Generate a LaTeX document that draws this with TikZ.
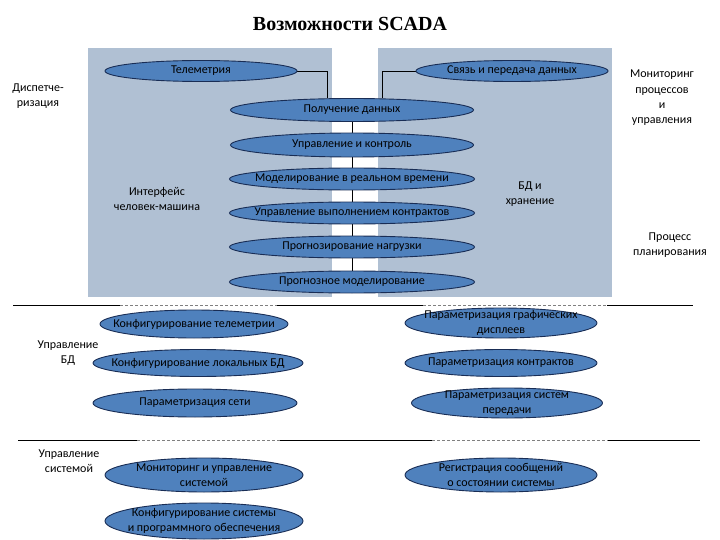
\documentclass[tikz,border=0pt]{standalone}
\usepackage{fontspec}
\setmainfont{Carlito}
\newfontfamily\titlefont{Liberation Serif}
\usetikzlibrary{shapes.geometric,backgrounds}
\definecolor{ovalfill}{RGB}{79,129,189}
\definecolor{ovaledge}{RGB}{25,45,85}
\definecolor{panelfill}{RGB}{176,192,211}

\begin{document}
\begin{tikzpicture}[x=1pt,y=-1pt,
  oval/.style={ellipse,draw=ovaledge,fill=ovalfill,line width=0.9pt,inner sep=0pt},
  otxt/.style={align=center,font=\fontsize{12}{14.5}\selectfont,text=black},
  lbl/.style={align=center,font=\fontsize{12}{15.3}\selectfont},
  wire/.style={draw=black,line width=0.7pt},
  sepsolid/.style={draw=black,line width=0.9pt},
  sepdash/.style={draw=gray,line width=0.9pt,dash pattern=on 3pt off 2pt}
]
\useasboundingbox (0,0) rectangle (720,540);
\node[font=\titlefont\bfseries\fontsize{20}{24}\selectfont] (title) at (350,24) {Возможности SCADA};

% upper block
\node[oval,minimum width=192,minimum height=21,label={[otxt]center:Телеметрия}] (tele) at (201,71) {};
\node[oval,minimum width=192,minimum height=21,label={[otxt]center:Связь и передача данных}] (comm) at (512,71) {};
\node[oval,minimum width=243,minimum height=23,label={[otxt]center:Получение данных}] (recv) at (352,110) {};
\node[oval,minimum width=243,minimum height=24,label={[otxt]center:Управление и контроль}] (ctrl) at (352,145) {};
\node[oval,minimum width=245,minimum height=22,label={[otxt]center:Моделирование в реальном времени}] (rtsim) at (352,179) {};
\node[oval,minimum width=245,minimum height=22,label={[otxt]center:Управление выполнением контрактов}] (contr) at (352,213) {};
\node[oval,minimum width=245,minimum height=22,label={[otxt]center:Прогнозирование нагрузки}] (load) at (352,247) {};
\node[oval,minimum width=245,minimum height=22,label={[otxt]center:Прогнозное моделирование}] (fmod) at (352,282) {};

\node[lbl] (disp) at (38,96) {Диспетче-\\ризация};
\node[lbl] (procmon) at (662,98) {Мониторинг\\процессов\\и\\управления};
\node[lbl] (hmi) at (157,199) {Интерфейс\\человек-машина};
\node[lbl] (dbst) at (530,194) {БД и\\хранение};
\node[lbl] (plan) at (670,245) {Процесс\\планирования};

% lower block
\node[oval,minimum width=188,minimum height=28,label={[otxt]center:Конфигурирование телеметрии}] (cfgtel) at (194,324) {};
\node[oval,minimum width=210,minimum height=27,label={[otxt]center:Конфигурирование локальных БД}] (cfgdb) at (198,363) {};
\node[oval,minimum width=204,minimum height=28,label={[otxt]center:Параметризация сети}] (netpar) at (195,403) {};
\node[oval,minimum width=192,minimum height=30,label={[otxt]center:Параметризация графических\\дисплеев}] (dispar) at (501,323) {};
\node[oval,minimum width=192,minimum height=27,label={[otxt]center:Параметризация контрактов}] (contpar) at (501,363) {};
\node[oval,minimum width=191,minimum height=30,label={[otxt]center:Параметризация систем\\передачи}] (transpar) at (507,403) {};
\node[oval,minimum width=198,minimum height=34,label={[otxt]center:Мониторинг и управление\\системой}] (sysmon) at (204,475) {};
\node[oval,minimum width=198,minimum height=36,label={[otxt]center:Конфигурирование системы\\и программного обеспечения}] (syscfg) at (204,521) {};
\node[oval,minimum width=192,minimum height=34,label={[otxt]center:Регистрация сообщений\\о состоянии системы}] (msglog) at (501,475) {};

\node[lbl] (dbctl) at (68,353) {Управление\\БД};
\node[lbl] (sysctl) at (69,461) {Управление\\системой};

% separators
\foreach \xa/\xb/\ls in {13/120/sepsolid,120/277/sepdash,277/423/sepsolid,423/607/sepdash,607/693/sepsolid}
  \draw[\ls] (\xa,305) -- (\xb,305);
\foreach \xa/\xb/\ls in {18/137/sepsolid,137/280/sepdash,280/432/sepsolid,432/608/sepdash,608/700/sepsolid}
  \draw[\ls] (\xa,440) -- (\xb,440);

\begin{scope}[on background layer]
\fill[panelfill] (88,48) rectangle (332,297);
\fill[panelfill] (378,48) rectangle (612,297);
\draw[wire] (tele.east) -| ([xshift=-25pt]recv.north);
\draw[wire] (comm.west) -| ([xshift=30pt]recv.north);
\draw[wire] (recv.center) -- (fmod.center);
\end{scope}
\end{tikzpicture}
\end{document}
